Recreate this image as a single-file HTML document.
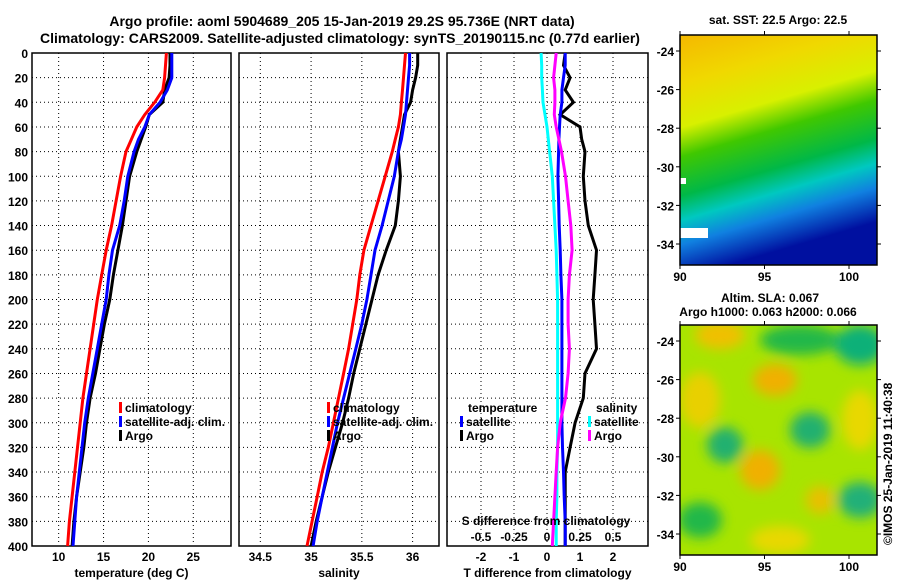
<!DOCTYPE html>
<html><head><meta charset="utf-8"><style>
body{margin:0;background:#fff}
svg text{font-family:"Liberation Sans",sans-serif;font-weight:bold;font-size:12px;fill:#000}
</style></head><body>
<svg id="c" width="900" height="580" viewBox="0 0 900 580" xmlns="http://www.w3.org/2000/svg">
<defs>
<linearGradient id="sst" x1="0" y1="0" x2="0.25" y2="1">
<stop offset="0" stop-color="#f5b800"/><stop offset="0.2" stop-color="#f0d800"/><stop offset="0.38" stop-color="#d8f000"/>
<stop offset="0.5" stop-color="#40c800"/><stop offset="0.66" stop-color="#00b848"/><stop offset="0.76" stop-color="#00c8c0"/>
<stop offset="0.86" stop-color="#1080e0"/><stop offset="1" stop-color="#0010a0"/></linearGradient>
<filter id="bl"><feGaussianBlur stdDeviation="6"/></filter>
<clipPath id="m2"><rect x="680" y="325" width="197" height="230"/></clipPath>
</defs>
<text x="342" y="26" text-anchor="middle" style="font-size:14px">Argo profile: aoml 5904689_205 15-Jan-2019 29.2S 95.736E (NRT data)</text>
<text x="340" y="43" text-anchor="middle" style="font-size:14px">Climatology: CARS2009. Satellite-adjusted climatology: synTS_20190115.nc (0.77d earlier)</text>
<g id="panels"></g>
<g id="maps">
<text x="778" y="24" text-anchor="middle">sat. SST: 22.5 Argo: 22.5</text>
<rect x="680" y="35" width="197" height="230" fill="url(#sst)"/>
<rect x="680" y="228" width="28" height="10" fill="#fff"/>
<rect x="680" y="178" width="6" height="6" fill="#fff"/>
<rect x="680" y="35" width="197" height="230" fill="none" stroke="#000" stroke-width="1.5"/>
<text x="770" y="302" text-anchor="middle">Altim. SLA: 0.067</text>
<text x="768" y="316" text-anchor="middle">Argo h1000: 0.063 h2000: 0.066</text>
<g clip-path="url(#m2)">
<rect x="680" y="325" width="197" height="230" fill="#a8e400"/>
<g filter="url(#bl)">
<ellipse cx="720" cy="335" rx="25" ry="14" fill="#f0c000"/>
<ellipse cx="800" cy="340" rx="40" ry="15" fill="#20b848"/>
<ellipse cx="860" cy="345" rx="25" ry="20" fill="#10b078"/>
<ellipse cx="775" cy="380" rx="22" ry="16" fill="#f0b000"/>
<ellipse cx="700" cy="400" rx="20" ry="28" fill="#e8d000"/>
<ellipse cx="725" cy="445" rx="18" ry="18" fill="#20b070"/>
<ellipse cx="760" cy="470" rx="20" ry="20" fill="#f0b000"/>
<ellipse cx="810" cy="430" rx="20" ry="18" fill="#20b070"/>
<ellipse cx="860" cy="420" rx="18" ry="30" fill="#e8d800"/>
<ellipse cx="860" cy="500" rx="22" ry="18" fill="#20b078"/>
<ellipse cx="820" cy="500" rx="14" ry="14" fill="#e8c000"/>
<ellipse cx="700" cy="520" rx="22" ry="18" fill="#20b848"/>
<ellipse cx="780" cy="540" rx="30" ry="14" fill="#e8d800"/>
</g></g>
<rect x="680" y="325" width="197" height="230" fill="none" stroke="#000" stroke-width="1.5"/>
</g>
<text transform="translate(892,545) rotate(-90)">©IMOS 25-Jan-2019 11:40:38</text>
</svg>
<script>
const depths=[0,10,20,30,40,50,60,70,80,100,120,140,160,180,200,220,240,260,280,300,320,340,360,380,400];
const tClim=[22.0,21.9,21.8,21.6,20.7,19.6,18.7,18.1,17.5,16.9,16.4,15.9,15.3,14.8,14.3,13.9,13.5,13.1,12.7,12.4,12.1,11.8,11.5,11.2,11.0];
const tSat=[22.6,22.6,22.6,22.1,21.3,20.1,19.6,18.9,18.4,17.7,17.3,16.8,16.0,15.6,15.3,14.8,14.3,13.8,13.3,12.9,12.6,12.3,12.0,11.8,11.6];
const tArgo=[22.4,22.4,22.3,21.8,21.6,20.1,19.7,19.2,18.7,17.9,17.5,17.1,16.6,16.1,15.7,15.1,14.6,14.1,13.5,13.1,12.8,12.4,12.0,11.7,11.5];
const sClim=[35.93,35.92,35.91,35.9,35.89,35.88,35.86,35.83,35.8,35.73,35.66,35.59,35.52,35.48,35.45,35.41,35.37,35.32,35.27,35.22,35.17,35.11,35.06,35.01,34.96];
const sSat=[35.97,35.97,35.96,35.95,35.94,35.93,35.91,35.89,35.86,35.82,35.76,35.7,35.63,35.59,35.55,35.5,35.44,35.38,35.32,35.26,35.21,35.16,35.11,35.06,35.02];
const sArgo=[36.05,36.05,36.03,36.0,35.98,35.92,35.9,35.88,35.86,35.88,35.86,35.83,35.74,35.66,35.6,35.54,35.48,35.42,35.37,35.31,35.24,35.17,35.11,35.05,35.0];
const dtSat=[0.55,0.55,0.5,0.45,0.45,0.4,0.38,0.36,0.35,0.33,0.35,0.37,0.4,0.42,0.45,0.45,0.45,0.45,0.45,0.45,0.47,0.5,0.52,0.55,0.55];
const dtArgo=[0.55,0.5,0.7,0.55,0.8,0.4,1.0,1.05,1.15,1.1,1.15,1.25,1.5,1.45,1.4,1.45,1.5,1.15,1.1,0.85,0.7,0.55,0.55,0.55,0.55];
const dsSat=[-0.045,-0.04,-0.04,-0.035,-0.03,-0.015,0,0.01,0.02,0.04,0.05,0.06,0.07,0.075,0.08,0.08,0.08,0.08,0.08,0.08,0.08,0.075,0.075,0.07,0.07];
const dsArgo=[0.07,0.06,0.05,0.06,0.06,0.055,0.07,0.09,0.11,0.14,0.16,0.18,0.19,0.17,0.16,0.16,0.17,0.16,0.14,0.1,0.08,0.07,0.06,0.05,0.04];
const depthTicks=[0,20,40,60,80,100,120,140,160,180,200,220,240,260,280,300,320,340,360,380,400];
const tTicks=[10,15,20,25];
const sTicks=[34.5,35,35.5,36];
const dtTicks=[-2,-1,0,1,2];
const dsTicks=[-0.5,-0.25,0,0.25,0.5];
const dsTickLabels=["-0.5","-0.25","0","0.25","0.5"];
const NS="http://www.w3.org/2000/svg";
const G=document.getElementById('panels');
function el(t,a,p){const e=document.createElementNS(NS,t);for(const k in a)e.setAttribute(k,a[k]);(p||G).appendChild(e);return e;}
const yD=d=>53+d*1.2325;
const panels=[
 {x0:32,x1:231,v0:7.03,v1:29.2,ticks:tTicks,label:'temperature (deg C)',name:'temperature-panel'},
 {x0:239,x1:439,v0:34.29,v1:36.26,ticks:sTicks,label:'salinity',name:'salinity-panel'},
 {x0:447,x1:648,v0:-3.03,v1:3.06,ticks:dtTicks,label:'T difference from climatology',name:'difference-panel'}];
panels.forEach((p,i)=>{
 p.sx=v=>p.x0+(v-p.v0)/(p.v1-p.v0)*(p.x1-p.x0);
 const g=el('g',{});
 
 
 depthTicks.forEach(d=>{
  el('line',{x1:p.x0,x2:p.x1,y1:yD(d),y2:yD(d),stroke:'#000','stroke-dasharray':'1 3'},g);
  if(i==0){const t=el('text',{x:28,y:yD(d)+5,'text-anchor':'end'},g);t.textContent=d;
   
   }
 });
 p.ticks.forEach(v=>{
  el('line',{x1:p.sx(v),x2:p.sx(v),y1:53,y2:545,stroke:'#000','stroke-dasharray':'1 3'},g);
  const t=el('text',{x:p.sx(v),y:561,'text-anchor':'middle'},g);t.textContent=v;
  
  
 });
 el('rect',{x:p.x0,y:yD(0),width:p.x1-p.x0,height:yD(400)-yD(0),fill:'none',stroke:'#000','stroke-width':1.5},g);
 const t=el('text',{x:(p.x0+p.x1)/2,y:577,'text-anchor':'middle'},g);t.textContent=p.label;
 
 
});
function line(xs,sx,color,name){
 const pts=depths.map((d,k)=>sx(xs[k]).toFixed(1)+','+yD(d).toFixed(1)).join(' ');
 const e=el('polyline',{points:pts,fill:'none',stroke:color,'stroke-width':3});
 
 
}
const [P1,P2,P3]=panels;
line(tArgo,P1.sx,'#000','temp-argo-line');line(tSat,P1.sx,'#0000ff','temp-satellite-line');line(tClim,P1.sx,'#ff0000','temp-climatology-line');
line(sArgo,P2.sx,'#000','sal-argo-line');line(sSat,P2.sx,'#0000ff','sal-satellite-line');line(sClim,P2.sx,'#ff0000','sal-climatology-line');
const sxS=v=>547+v*132;
line(dtArgo,P3.sx,'#000','tdiff-argo-line');line(dtSat,P3.sx,'#0000ff','tdiff-satellite-line');
line(dsSat,sxS,'#00ffff','sdiff-satellite-line');line(dsArgo,sxS,'#ff00ff','sdiff-argo-line');
function leg(x,y,c,txt,name){
 el('rect',{x:x,y:y-10,width:3,height:11,fill:c});
 const t=el('text',{x:x+6,y:y},G);t.textContent=txt;
 
 
}
leg(119,412,'#ff0000','climatology','legend-climatology');
leg(119,426,'#0000ff','satellite-adj. clim.','legend-satellite-adj');
leg(119,440,'#000','Argo','legend-argo');
leg(327,412,'#ff0000','climatology','legend2-climatology');
leg(327,426,'#0000ff','satellite-adj. clim.','legend2-satellite-adj');
leg(327,440,'#000','Argo','legend2-argo');
function txt(x,y,s,name,anchor){const t=el('text',{x:x,y:y,'text-anchor':anchor||'start'});t.textContent=s;
 
 }
txt(468,412,'temperature','legend-temperature-header');
txt(596,412,'salinity','legend-salinity-header');
leg(460,426,'#0000ff','satellite','legend-t-satellite');
leg(460,440,'#000','Argo','legend-t-argo');
leg(588,426,'#00ffff','satellite','legend-s-satellite');
leg(588,440,'#ff00ff','Argo','legend-s-argo');
txt(546,525,'S difference from climatology','s-diff-axis-title','middle');
dsTicks.forEach((v,k)=>txt(sxS(v),541,dsTickLabels[k],'s-diff-tick-label','middle'));
const M=document.getElementById('maps');
const lonTicks=[90,95,100],latTicks=[-24,-26,-28,-30,-32,-34];
const lonX=v=>680+(v-90)*16.9;
[[35,265],[325,555]].forEach(([y0,y1])=>{
 const latY=v=>y0+16+(-24-v)*19.3;
 lonTicks.forEach(v=>{el('line',{x1:lonX(v),x2:lonX(v),y1:y1,y2:y1+4,stroke:'#000'},M);el('line',{x1:lonX(v),x2:lonX(v),y1:y0-4,y2:y0,stroke:'#000'},M);
  const t=el('text',{x:lonX(v),y:y1+16,'text-anchor':'middle'},M);t.textContent=v;
  
  });
 latTicks.forEach(v=>{el('line',{x1:676,x2:680,y1:latY(v),y2:latY(v),stroke:'#000'},M);el('line',{x1:877,x2:881,y1:latY(v),y2:latY(v),stroke:'#000'},M);
  const t=el('text',{x:674,y:latY(v)+5,'text-anchor':'end'},M);t.textContent=v;
  
  });
});
</script>
</body></html>
